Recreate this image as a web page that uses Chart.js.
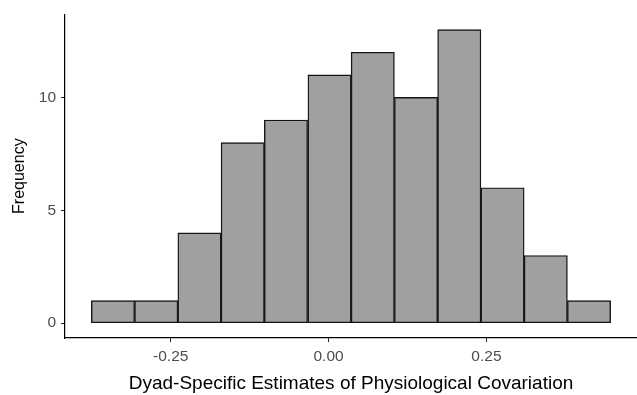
<!DOCTYPE html>
<html>
<head>
<meta charset="utf-8">
<script src="https://cdn.jsdelivr.net/npm/chart.js@4/dist/chart.umd.min.js"></script>
<style>
  html, body { margin: 0; padding: 0; background: #ffffff; }
  #wrap { width: 637px; height: 395px; }
</style>
</head>
<body>
<div id="wrap"><canvas id="c" width="637" height="395"></canvas></div>
<script>
// Histogram bin edges (13 edges -> 12 bins)
const binEdges = [-0.376, -0.307, -0.239, -0.170, -0.102, -0.033, 0.036, 0.104, 0.173, 0.241, 0.310, 0.378, 0.447];
// Frequency per bin
const counts = [1, 1, 4, 8, 9, 11, 12, 10, 13, 6, 3, 1];
// Axis ticks
const xTicks = [-0.25, 0.00, 0.25];
const yTicks = [0, 5, 10];
const xTitle = 'Dyad-Specific Estimates of Physiological Covariation';
const yTitle = 'Frequency';

const points = counts.map((c, i) => ({ x: (binEdges[i] + binEdges[i + 1]) / 2, y: c }));
const FONT = '"Liberation Sans", Arial, Helvetica, sans-serif';

new Chart(document.getElementById('c'), {
  type: 'bar',
  data: {
    datasets: [{
      data: points,
      backgroundColor: '#a0a0a0',
      borderColor: '#151515',
      borderWidth: 1.4,
      borderSkipped: false,
      barPercentage: 1,
      categoryPercentage: 1
    }]
  },
  options: {
    responsive: false,
    animation: false,
    devicePixelRatio: 1,
    layout: { padding: { top: 10, right: 0, left: 0, bottom: 0 } },
    plugins: { legend: { display: false }, tooltip: { enabled: false } },
    scales: {
      x: {
        type: 'linear',
        offset: false,
        min: -0.4175,
        max: 0.4885,
        afterBuildTicks: s => { s.ticks = xTicks.map(v => ({ value: v })); },
        afterFit: s => { s.height = 57; },
        grid: { offset: false, drawOnChartArea: false, drawTicks: true, tickLength: 4, color: '#222222', lineWidth: 1 },
        border: { display: true, color: '#000000', width: 1.2 },
        ticks: {
          padding: 5,
          color: '#4d4d4d',
          font: { family: FONT, size: 15.5 },
          maxRotation: 0,
          callback: v => Number(v).toFixed(2)
        },
        title: {
          display: true,
          text: xTitle,
          color: '#000000',
          font: { family: FONT, size: 19 },
          padding: { top: 10, bottom: 0 }
        }
      },
      y: {
        min: -0.655,
        max: 13.68,
        afterBuildTicks: s => { s.ticks = yTicks.map(v => ({ value: v })); },
        afterFit: s => { s.width = 65; },
        grid: { offset: false, drawOnChartArea: false, drawTicks: true, tickLength: 4, color: '#222222', lineWidth: 1 },
        border: { display: true, color: '#000000', width: 1.2 },
        ticks: {
          padding: 5,
          color: '#4d4d4d',
          font: { family: FONT, size: 15.5 },
          callback: v => String(v)
        },
        title: {
          display: true,
          text: yTitle,
          color: '#000000',
          font: { family: FONT, size: 16 },
          padding: { top: 10, bottom: 0 }
        }
      }
    }
  }
});
</script>
</body>
</html>
